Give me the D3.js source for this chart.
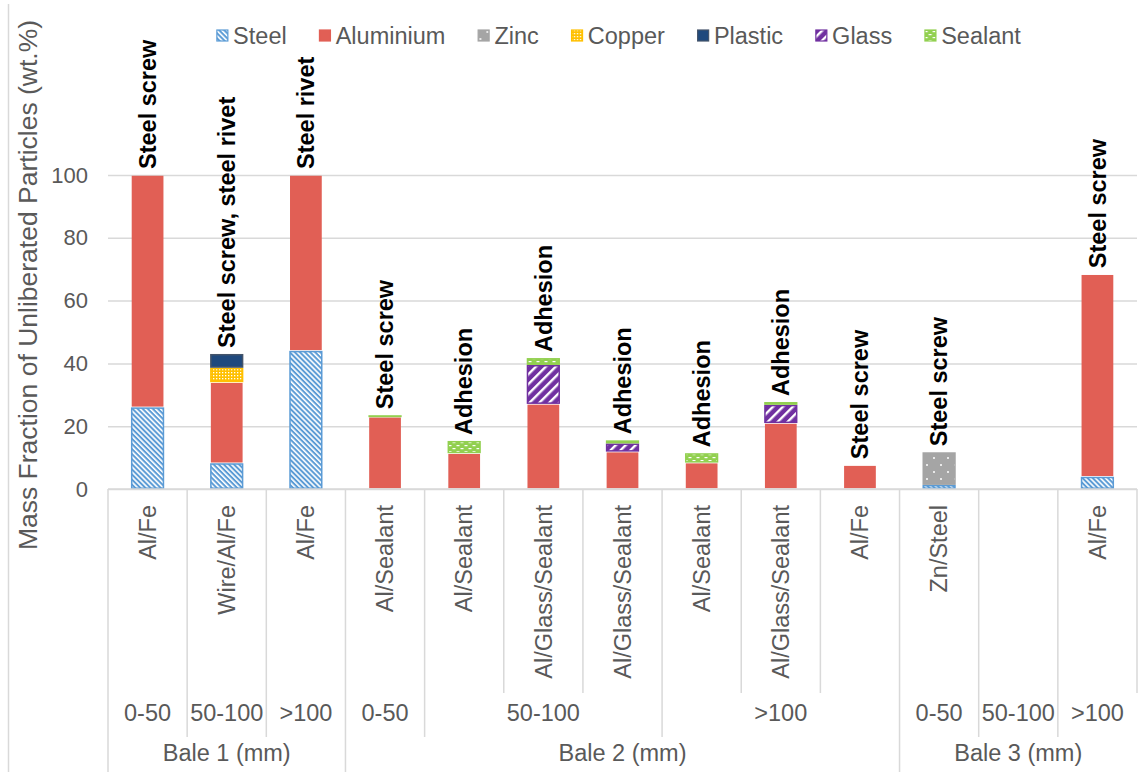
<!DOCTYPE html>
<html>
<head>
<meta charset="utf-8">
<script src="https://cdn.jsdelivr.net/npm/d3@7"></script>
<style>
  html, body { margin: 0; padding: 0; background: #ffffff; }
  svg { display: block; font-family: "Liberation Sans", Arial, sans-serif; }
</style>
</head>
<body>
<svg id="chart" width="1140" height="778"></svg>
<script>
// Particle composition per category (wt.%), stacked bottom to top
const categories = ["Al/Fe", "Wire/Al/Fe", "Al/Fe", "Al/Sealant", "Al/Sealant", "Al/Glass/Sealant",
  "Al/Glass/Sealant", "Al/Sealant", "Al/Glass/Sealant", "Al/Fe", "Zn/Steel", "", "Al/Fe"];
const steel     = [26, 8.2, 44, 0, 0, 0, 0, 0, 0, 0, 1.3, 0, 3.9];
const aluminium = [74, 25.8, 56, 23.0, 11.4, 27.1, 11.9, 8.4, 21.0, 7.6, 0, 0, 64.5];
const zinc      = [0, 0, 0, 0, 0, 0, 0, 0, 0, 0, 10.4, 0, 0];
const copper    = [0, 4.6, 0, 0, 0, 0, 0, 0, 0, 0, 0, 0, 0];
const plastic   = [0, 4.4, 0, 0, 0, 0, 0, 0, 0, 0, 0, 0, 0];
const glass     = [0, 0, 0, 0, 0, 12.4, 2.6, 0, 5.8, 0, 0, 0, 0];
const sealant   = [0, 0, 0, 0.5, 3.9, 2.2, 1.0, 3.0, 0.9, 0, 0, 0, 0];
const seriesNames = ["Steel", "Aluminium", "Zinc", "Copper", "Plastic", "Glass", "Sealant"];
const annotations = ["Steel screw", "Steel screw, steel rivet", "Steel rivet", "Steel screw", "Adhesion",
  "Adhesion", "Adhesion", "Adhesion", "Adhesion", "Steel screw", "Steel screw", "", "Steel screw"];
// Size fractions (label, number of categories) and bales (label, number of categories)
const sizeLabels = ["0-50", "50-100", ">100", "0-50", "50-100", ">100", "0-50", "50-100", ">100"];
const sizeSpans  = [1, 1, 1, 1, 3, 3, 1, 1, 1];
const baleLabels = ["Bale 1 (mm)", "Bale 2 (mm)", "Bale 3 (mm)"];
const baleSpans  = [3, 7, 3];
const yTicks = [0, 20, 40, 60, 80, 100];
const yTitle = "Mass Fraction of Unliberated Particles (wt.%)";

const seriesValues = [steel, aluminium, zinc, copper, plastic, glass, sealant];
const rows = categories.map((c, i) => {
  const r = { idx: i };
  seriesNames.forEach((s, k) => { r[s] = seriesValues[k][i]; });
  return r;
});

const svg = d3.select("#chart");
const textCol = "#595959";
const gridCol = "#D9D9D9";
const left = 108, right = 1137, baseY = 489, topY = 175;

const x = d3.scaleBand().domain(d3.range(categories.length)).range([left, right])
  .paddingInner(0.58).paddingOuter(0.29);
const step = x.step();
const y = d3.scaleLinear().domain([0, 100]).range([baseY, topY]);

// ---- fill patterns ----
const defs = svg.append("defs");
function stripePattern(id, bg, fg, size, stripeW, angle) {
  const p = defs.append("pattern").attr("id", id).attr("patternUnits", "userSpaceOnUse")
    .attr("width", size).attr("height", size).attr("patternTransform", `rotate(${angle})`);
  p.append("rect").attr("width", size).attr("height", size).attr("fill", bg);
  p.append("rect").attr("width", stripeW).attr("height", size).attr("fill", fg);
}
stripePattern("pSteel", "#5B9BD5", "#ffffff", 3.6, 1.6, -45);
stripePattern("pGlass", "#7030A0", "#ffffff", 7, 2.4, 45);
(function () {
  const p = defs.append("pattern").attr("id", "pSealant").attr("patternUnits", "userSpaceOnUse")
    .attr("width", 8).attr("height", 6);
  p.append("rect").attr("width", 8).attr("height", 6).attr("fill", "#92D050");
  p.append("rect").attr("x", 0.5).attr("y", 1).attr("width", 3).attr("height", 1.2).attr("fill", "#ffffff");
  p.append("rect").attr("x", 4.5).attr("y", 4).attr("width", 3).attr("height", 1.2).attr("fill", "#ffffff");
})();
(function () {
  const p = defs.append("pattern").attr("id", "pCopper").attr("patternUnits", "userSpaceOnUse")
    .attr("width", 3).attr("height", 3);
  p.append("rect").attr("width", 3).attr("height", 3).attr("fill", "#FFC000");
  p.append("rect").attr("width", 1.3).attr("height", 1.3).attr("fill", "#ffffff");
})();
(function () {
  const p = defs.append("pattern").attr("id", "pZinc").attr("patternUnits", "userSpaceOnUse")
    .attr("width", 14).attr("height", 14);
  p.append("rect").attr("width", 14).attr("height", 14).attr("fill", "#A5A5A5");
  p.append("circle").attr("cx", 3).attr("cy", 3).attr("r", 1).attr("fill", "#ffffff");
  p.append("circle").attr("cx", 10).attr("cy", 10).attr("r", 1).attr("fill", "#ffffff");
})();

const fills = {
  Steel: "url(#pSteel)", Aluminium: "#E15F55", Zinc: "url(#pZinc)", Copper: "url(#pCopper)",
  Plastic: "#1F497D", Glass: "url(#pGlass)", Sealant: "url(#pSealant)"
};
const strokes = {
  Steel: "#5B9BD5", Aluminium: "none", Zinc: "#A5A5A5", Copper: "#FFC000",
  Plastic: "#44546A", Glass: "#7030A0", Sealant: "#92D050"
};

// chart frame edge
svg.append("line").attr("x1", 8.5).attr("x2", 8.5).attr("y1", 4).attr("y2", 772)
  .attr("stroke", gridCol).attr("stroke-width", 1.5);

// ---- gridlines and y axis ----
const yAxis = d3.axisLeft(y).tickValues(yTicks).tickSize(-(right - left)).tickPadding(20);
const gy = svg.append("g").attr("transform", `translate(${left},0)`).call(yAxis);
gy.select(".domain").remove();
gy.selectAll(".tick line").attr("stroke", gridCol).attr("stroke-width", 1.5);
gy.selectAll(".tick text").attr("fill", textCol).attr("font-size", 22)
  .attr("font-family", "'Liberation Sans', Arial, sans-serif");

svg.append("text")
  .attr("transform", `translate(28,${285}) rotate(-90)`)
  .attr("text-anchor", "middle").attr("dy", "0.35em")
  .attr("fill", textCol).attr("font-size", 26.5).text(yTitle);

// ---- stacked bars ----
const stack = d3.stack().keys(seriesNames)(rows);
const layers = svg.append("g").selectAll("g").data(stack).join("g")
  .attr("fill", d => fills[d.key])
  .attr("stroke", d => strokes[d.key])
  .attr("stroke-width", 1.5);
layers.selectAll("rect")
  .data(d => d.filter(s => s[1] - s[0] > 0))
  .join("rect")
  .attr("x", d => x(d.data.idx) + 0.75)
  .attr("width", x.bandwidth() - 1.5)
  .attr("y", d => y(d[1]) + 0.75)
  .attr("height", d => Math.max(0.5, y(d[0]) - y(d[1]) - 1.5));

// ---- annotations above each bar ----
const totals = rows.map(r => d3.sum(seriesNames, s => r[s]));
svg.append("g").selectAll("text").data(annotations.map((a, i) => ({ a, i })).filter(d => d.a))
  .join("text")
  .attr("transform", d => `translate(${x(d.i) + x.bandwidth() / 2},${y(totals[d.i]) - 6}) rotate(-90)`)
  .attr("dy", "0.35em").attr("text-anchor", "start")
  .attr("font-size", 23.5).attr("font-weight", "bold").attr("fill", "#000000")
  .text(d => d.a);

// ---- multi-level category axis ----
const axisG = svg.append("g").attr("stroke", gridCol).attr("stroke-width", 1.5);
axisG.append("line").attr("x1", left).attr("x2", right).attr("y1", baseY).attr("y2", baseY);
const level0Bottom = 693, level1Bottom = 737, level2Bottom = 772;
d3.range(categories.length + 1).forEach(i => {
  axisG.append("line").attr("x1", left + i * step).attr("x2", left + i * step)
    .attr("y1", baseY).attr("y2", level0Bottom);
});
let acc = 0;
const sizeStarts = sizeSpans.map(s => { const a = acc; acc += s; return a; });
acc = 0;
const baleStarts = baleSpans.map(s => { const a = acc; acc += s; return a; });
sizeStarts.forEach(s => {
  axisG.append("line").attr("x1", left + s * step).attr("x2", left + s * step)
    .attr("y1", level0Bottom).attr("y2", level1Bottom);
});
baleStarts.forEach(s => {
  axisG.append("line").attr("x1", left + s * step).attr("x2", left + s * step)
    .attr("y1", level1Bottom).attr("y2", level2Bottom);
});

svg.append("g").selectAll("text").data(categories).join("text")
  .attr("transform", (d, i) => `translate(${x(i) + x.bandwidth() / 2},505) rotate(-90)`)
  .attr("text-anchor", "end").attr("dy", "0.35em")
  .attr("font-size", 23.5).attr("fill", textCol).text(d => d);

svg.append("g").selectAll("text").data(sizeLabels).join("text")
  .attr("x", (d, i) => left + (sizeStarts[i] + sizeSpans[i] / 2) * step)
  .attr("y", 713).attr("dy", "0.35em").attr("text-anchor", "middle")
  .attr("font-size", 23.5).attr("fill", textCol).text(d => d);

svg.append("g").selectAll("text").data(baleLabels).join("text")
  .attr("x", (d, i) => left + (baleStarts[i] + baleSpans[i] / 2) * step)
  .attr("y", 753).attr("dy", "0.35em").attr("text-anchor", "middle")
  .attr("font-size", 23.5).attr("fill", textCol).text(d => d);

// ---- legend ----
const legend = svg.append("g");
let lx = 0;
seriesNames.forEach(name => {
  const g = legend.append("g").attr("transform", `translate(${lx},0)`);
  g.append("rect").attr("x", 0.75).attr("y", -6).attr("width", 11).attr("height", 11)
    .attr("fill", fills[name]).attr("stroke", strokes[name] === "none" ? fills[name] : strokes[name])
    .attr("stroke-width", 1.2);
  const t = g.append("text").attr("x", 17).attr("dy", "0.35em")
    .attr("font-size", 23.5).attr("fill", textCol).text(name);
  lx += 17 + t.node().getComputedTextLength() + 32;
});
const legendW = lx - 32;
legend.attr("transform", `translate(${(left + right) / 2 - legendW / 2 - 4},36)`);
</script>
</body>
</html>
